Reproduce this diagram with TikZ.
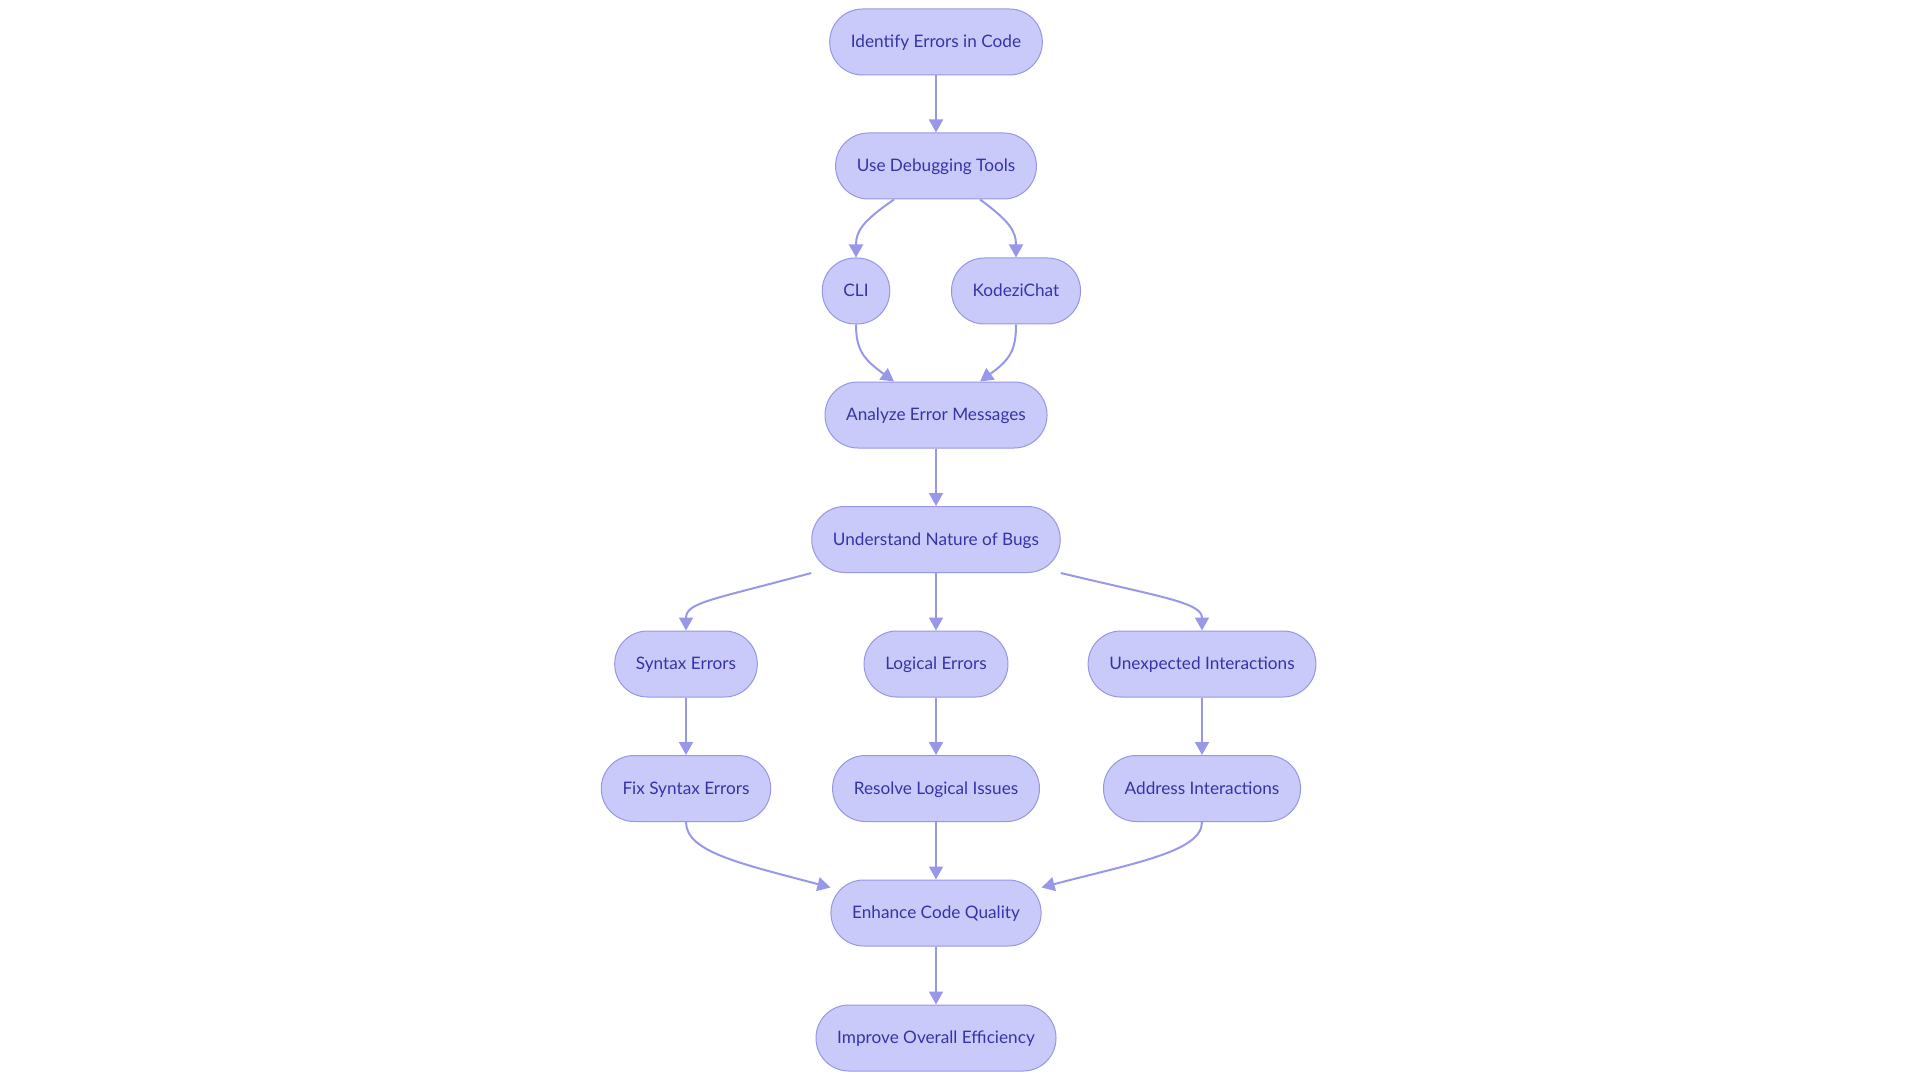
\documentclass[tikz,border=0pt]{standalone}
\usepackage{fontspec}
\setmainfont{Lato}
\usetikzlibrary{arrows.meta}
\definecolor{nodefill}{RGB}{202,202,250}
\definecolor{nodeline}{RGB}{150,150,228}
\definecolor{edgecol}{RGB}{152,152,234}
\definecolor{textcol}{RGB}{52,52,168}
\tikzset{
  flowbox/.style={draw=nodeline, line width=0.5pt, fill=nodefill, rounded corners=16.4pt,
    minimum height=33pt, inner xsep=10.6pt, text height=6.2pt, text depth=0.4pt,
    text=textcol, font=\fontsize{8.6pt}{10pt}\selectfont},
  flowedge/.style={draw=edgecol, line width=1pt, -{Triangle[length=6.5pt,width=7pt]}}
}
\begin{document}
\begin{tikzpicture}[x=0.5pt,y=-0.5pt]
\useasboundingbox (0,0) rectangle (1920,1080);
\node[flowbox] (identify) at (936,42) {Identify Errors in Code};
\node[flowbox] (use) at (936,166) {Use Debugging Tools};
\node[flowbox] (cli) at (856,291) {CLI};
\node[flowbox] (kodezi) at (1016,291) {KodeziChat};
\node[flowbox] (analyze) at (936,415) {Analyze Error Messages};
\node[flowbox] (understand) at (936,539.5) {Understand Nature of Bugs};
\node[flowbox] (syntax) at (686,664) {Syntax Errors};
\node[flowbox] (logical) at (936,664) {Logical Errors};
\node[flowbox] (unexpected) at (1202,664) {Unexpected Interactions};
\node[flowbox] (fix) at (686,788.5) {Fix Syntax Errors};
\node[flowbox] (resolve) at (936,788.5) {Resolve Logical Issues};
\node[flowbox] (address) at (1202,788.5) {Address Interactions};
\node[flowbox] (enhance) at (936,913) {Enhance Code Quality};
\node[flowbox] (improve) at (936,1038) {Improve Overall Efficiency};

\draw[flowedge] (identify.south) -- (use.north);
\draw[flowedge] ([xshift=-21pt]use.south) .. controls +(-32,22) and +(0,-26) .. (cli.north);
\draw[flowedge] ([xshift=22pt]use.south) .. controls +(30,22) and +(0,-26) .. (kodezi.north);
\draw[flowedge] (cli.south) .. controls +(0,26) and +(-30,-22) .. ([xshift=-21pt]analyze.north);
\draw[flowedge] (kodezi.south) .. controls +(0,26) and +(30,-22) .. ([xshift=22pt]analyze.north);
\draw[flowedge] (analyze.south) -- (understand.north);
\draw[flowedge] (understand.south west) .. controls +(-100,27) and +(0,-28) .. (syntax.north);
\draw[flowedge] (understand.south) -- (logical.north);
\draw[flowedge] (understand.south east) .. controls +(100,24) and +(0,-28) .. (unexpected.north);
\draw[flowedge] (syntax.south) -- (fix.north);
\draw[flowedge] (logical.south) -- (resolve.north);
\draw[flowedge] (unexpected.south) -- (address.north);
\draw[flowedge] (fix.south) .. controls +(0,30) and +(-90,-24) .. ([yshift=-4pt]enhance.north west);
\draw[flowedge] (resolve.south) -- (enhance.north);
\draw[flowedge] (address.south) .. controls +(0,30) and +(90,-24) .. ([yshift=-4pt]enhance.north east);
\draw[flowedge] (enhance.south) -- (improve.north);
\end{tikzpicture}
\end{document}
